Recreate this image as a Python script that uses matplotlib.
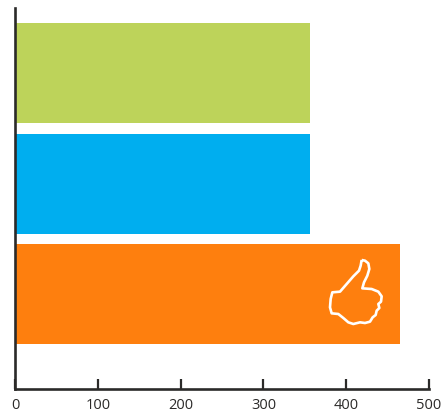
import matplotlib
matplotlib.use("Agg")
import matplotlib.pyplot as plt
from matplotlib.patches import PathPatch
from matplotlib.path import Path
from matplotlib.transforms import Affine2D

categories = ["orange", "blue", "green"]
values = [465, 356, 356]
colors = ["#FE7F0E", "#00AEEF", "#BDD35A"]
ticks = [0, 100, 200, 300, 400, 500]

W, H = 441, 410
plt.rcParams["font.family"] = ["Open Sans", "DejaVu Sans"]
fig = plt.figure(figsize=(W / 100, H / 100), dpi=100)
L, R, T, B = 15, 429, 9, 390
ax = fig.add_axes([L / W, 1 - B / H, (R - L) / W, (B - T) / H])
ax.barh(range(3), values, height=0.905, color=colors, linewidth=0)
ax.set_xlim(0, 500)
ax.set_ylim(-0.858, 2.590)
ax.set_yticks([])
ax.set_xticks(ticks)
ax.spines[["top", "right"]].set_visible(False)
for s in ("left", "bottom"):
    ax.spines[s].set_linewidth(1.9)
    ax.spines[s].set_color("#2B2A29")
ax.tick_params(axis="x", direction="in", length=7, width=1.6, color="#2B2A29",
               labelsize=10.5, labelcolor="#2B2A29", pad=5.5)

# Decorative thumb icon, outline traced in zoomed-crop pixels of the reference
icon = [(155,63),(165,65),(175,73),(178,90),(172,110),(162,130),(157,148),(185,150),
        (205,158),(215,172),(213,188),(205,195),(208,207),(200,215),(197,228),(188,235),
        (180,248),(165,252),(150,250),(130,255),(115,250),(100,237),(85,225),(65,223),
        (60,205),(62,180),(67,160),(90,158),(110,135),(130,112),(147,95),(152,80),(155,63)]
to_fig = Affine2D().scale(1 / 3).translate(310, 240).scale(1, -1).translate(0, H)
fig.add_artist(PathPatch(Path(icon, closed=False), fill=False, edgecolor="white",
                         linewidth=1.9, joinstyle="round", transform=to_fig))
fig.savefig("out.png", dpi=100)
